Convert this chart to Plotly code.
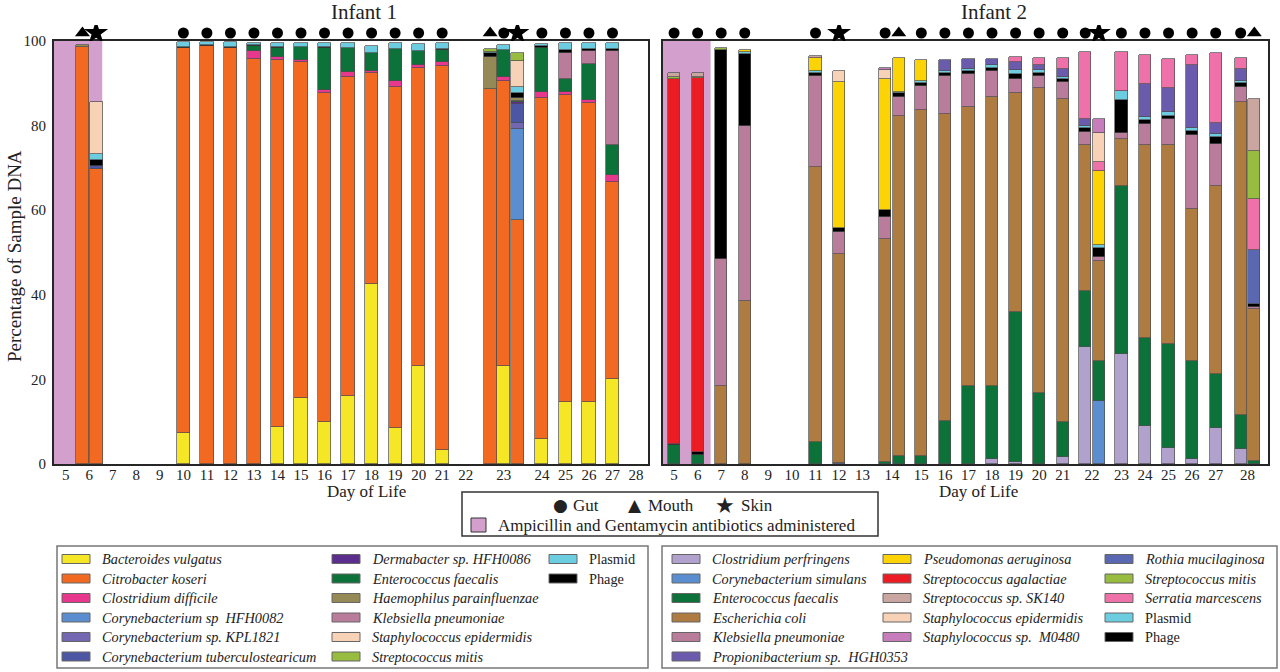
import plotly.graph_objects as go

W, H = 1280, 672

# ---------------- Infant 1 ----------------
I1_DAYS = [6, 6, 10, 11, 12, 13, 14, 15, 16, 17, 18, 19, 20, 21, 23, 23, 23, 24, 25, 26, 27]
I1_SITES = ["Mouth", "Skin"] + ["Gut"] * 12 + ["Mouth", "Gut", "Skin"] + ["Gut"] * 4

I1_BACTEROIDES = [0, 0, 7.4, 0, 0, 0, 8.8, 15.5, 10.0, 16.1, 42.5, 8.4, 23.2, 3.2, 0, 23.2, 0, 5.8, 14.7, 14.7, 20.0]
I1_CITROBACTER = [98.6, 69.7, 91.0, 98.8, 98.4, 95.8, 86.7, 79.5, 77.8, 75.5, 49.9, 80.8, 70.5, 91.0, 88.6, 67.4, 57.8, 80.8, 72.5, 70.6, 46.7]
I1_CDIFFICILE = [0, 0, 0, 0, 0, 1.8, 0.7, 0.5, 0.6, 1.0, 0.6, 1.4, 0.6, 0.8, 0, 0.9, 0, 1.3, 0.8, 0.8, 1.6]
I1_CORY_HFH0082 = [0, 0, 0, 0, 0, 0, 0, 0, 0, 0, 0, 0, 0, 0, 0, 0, 21.3, 0, 0, 0, 0]
I1_CORY_KPL1821 = [0, 0, 0, 0, 0, 0, 0, 0, 0, 0, 0, 0, 0, 0, 0, 0, 1.5, 0, 0, 0, 0]
I1_CORY_TUBERC = [0, 0.8, 0, 0, 0, 0, 0, 0, 0, 0, 0, 0, 0, 0, 0, 0, 4.4, 0, 0, 0, 0]
I1_DERMABACTER = [0, 0, 0, 0, 0, 0, 0, 0, 0, 0, 0, 0, 0, 0, 0, 0, 0.5, 0, 0, 0, 0]
I1_ENTEROCOCCUS = [0, 0, 0, 0, 0, 1.3, 2.1, 3.2, 10.0, 5.7, 4.1, 7.5, 3.4, 2.9, 0, 6.3, 0.4, 10.5, 2.9, 8.5, 7.0]
I1_HAEMOPHILUS = [0.5, 0, 0, 0, 0, 0, 0, 0, 0, 0, 0, 0, 0, 0, 7.6, 0, 0.6, 0, 0, 0, 0]
I1_KLEBSIELLA = [0, 0, 0, 0, 0, 0, 0, 0, 0, 0, 0, 0, 0, 0, 0, 0, 0, 0, 6.3, 3.1, 22.4]
I1_PHAGE = [0, 1.4, 0.3, 0.2, 0.3, 0.1, 0.2, 0, 0.2, 0, 0, 0, 0, 0.2, 0.9, 0, 1.2, 0.4, 0.7, 0.4, 0.3]
I1_PLASMID = [0, 1.5, 1.0, 0.8, 1.1, 0.6, 1.1, 0.9, 1.0, 1.2, 1.8, 1.4, 1.5, 1.5, 0.4, 1.2, 1.4, 0.6, 1.6, 1.4, 1.5]
I1_STAPH_EPI = [0, 12.1, 0, 0, 0, 0, 0, 0, 0, 0, 0, 0, 0, 0, 0, 0, 6.2, 0, 0, 0, 0]
I1_STREP_MITIS = [0, 0, 0, 0, 0, 0, 0, 0, 0, 0, 0, 0, 0, 0, 0.7, 0, 1.8, 0, 0, 0, 0]

# stacking order (bottom -> top): name, colour, values
I1_LAYERS = [
    ("Bacteroides vulgatus", "#F6E726", I1_BACTEROIDES),
    ("Citrobacter koseri", "#F26A22", I1_CITROBACTER),
    ("Clostridium difficile", "#E8388E", I1_CDIFFICILE),
    ("Corynebacterium sp HFH0082", "#5A8ED0", I1_CORY_HFH0082),
    ("Corynebacterium sp. KPL1821", "#7467B1", I1_CORY_KPL1821),
    ("Corynebacterium tuberculostearicum", "#4C56A2", I1_CORY_TUBERC),
    ("Dermabacter sp. HFH0086", "#5B2D8C", I1_DERMABACTER),
    ("Enterococcus faecalis", "#0C7239", I1_ENTEROCOCCUS),
    ("Haemophilus parainfluenzae", "#958A56", I1_HAEMOPHILUS),
    ("Klebsiella pneumoniae", "#B97C9B", I1_KLEBSIELLA),
    ("Phage", "#000000", I1_PHAGE),
    ("Plasmid", "#6CCCE0", I1_PLASMID),
    ("Staphylococcus epidermidis", "#F8D2B6", I1_STAPH_EPI),
    ("Streptococcus mitis", "#98BC3F", I1_STREP_MITIS),
]

# ---------------- Infant 2 ----------------
I2_DAYS = [5, 6, 7, 8, 11, 12, 14, 14, 15, 16, 17, 18, 19, 20, 21, 22, 22, 23, 24, 25, 26, 27, 28, 28]
I2_SITES = ["Gut"] * 5 + ["Skin", "Gut", "Mouth"] + ["Gut"] * 8 + ["Skin"] + ["Gut"] * 6 + ["Mouth"]

I2_CPERFRINGENS = [0, 0, 0, 0, 0, 0, 0, 0, 0, 0, 0, 1.2, 0.4, 0, 1.6, 27.6, 0, 26.0, 9.1, 3.9, 1.3, 8.6, 3.5, 0]
I2_CORY_SIMULANS = [0, 0, 0, 0, 0, 0.3, 0, 0, 0, 0, 0, 0, 0, 0, 0, 0, 14.9, 0, 0, 0, 0, 0, 0, 0]
I2_ENTEROCOCCUS = [4.6, 2.1, 0, 0, 5.1, 0, 0.5, 1.9, 2.0, 10.2, 18.5, 17.3, 35.6, 16.9, 8.3, 13.4, 9.5, 39.8, 20.6, 24.4, 23.1, 12.7, 8.2, 0.8]
I2_ECOLI = [0, 0, 18.5, 38.6, 65.0, 49.3, 52.6, 80.4, 81.8, 72.5, 65.8, 68.3, 51.8, 72.1, 76.3, 34.3, 23.7, 11.0, 45.6, 47.0, 36.0, 44.4, 73.8, 35.9]
I2_KLEBSIELLA = [0, 0, 30.0, 41.3, 21.6, 5.3, 5.4, 4.5, 5.6, 9.0, 7.9, 6.2, 3.2, 2.8, 4.2, 3.1, 0.8, 1.4, 5.0, 6.3, 17.4, 9.9, 3.7, 0.5]
I2_PHAGE = [0.2, 0.8, 49.4, 17.0, 0.7, 1.0, 1.5, 0.8, 0.6, 0.7, 0.7, 0.7, 1.2, 0.7, 0.6, 1.0, 2.1, 7.9, 1.0, 0.7, 0.9, 1.6, 0.8, 0.6]
I2_PLASMID = [0, 0, 0, 0.6, 0.5, 0, 0, 0.4, 0.5, 0.5, 0.6, 0.6, 0.9, 0.6, 0.6, 0.5, 0.8, 2.1, 0.7, 1.0, 0.8, 0.7, 0.5, 0]
I2_STREP_AGAL = [86.2, 88.3, 0, 0, 0, 0, 0, 0, 0, 0, 0, 0, 0, 0, 0, 0, 0, 0, 0, 0, 0, 0, 0, 0]
I2_PSEUDOMONAS = [0, 0, 0, 0.4, 3.2, 34.5, 31.0, 8.1, 5.0, 0, 0, 0, 0, 0, 0, 0, 17.4, 0, 0, 0, 0, 0, 0, 0]
I2_PROPIONI = [0, 0, 0, 0, 0, 0, 0, 0, 0, 2.6, 2.2, 1.4, 2.0, 1.2, 1.8, 1.6, 0, 0, 7.8, 5.5, 14.8, 2.6, 2.8, 0]
I2_ROTHIA = [0, 0, 0, 0, 0, 0, 0, 0, 0, 0, 0, 0, 0, 0, 0, 0, 0, 0, 0, 0, 0, 0, 0, 12.8]
I2_SERRATIA = [0, 0, 0, 0, 0, 0, 0, 0, 0, 0, 0, 0, 1.2, 1.6, 2.5, 15.8, 2.3, 9.1, 7.0, 6.9, 2.5, 16.6, 2.8, 12.0]
I2_STREP_MITIS = [0.5, 0.4, 0.5, 0, 0, 0, 0, 0, 0, 0, 0, 0, 0, 0, 0, 0, 0, 0, 0, 0, 0, 0, 0, 11.5]
I2_STREP_SK140 = [1.0, 0.9, 0, 0, 0.3, 0, 0, 0, 0, 0, 0, 0, 0, 0, 0, 0, 0, 0, 0, 0, 0, 0, 0, 12.2]
I2_STAPH_EPI = [0, 0, 0, 0, 0, 2.6, 2.1, 0, 0, 0, 0, 0, 0, 0, 0, 0, 6.7, 0, 0, 0, 0, 0, 0, 0]
I2_STAPH_M0480 = [0, 0, 0, 0, 0, 0, 0.6, 0, 0, 0, 0, 0, 0, 0, 0, 0, 3.3, 0, 0, 0, 0, 0, 0, 0]

I2_LAYERS = [
    ("Clostridium perfringens", "#B0A1CD", I2_CPERFRINGENS),
    ("Corynebacterium simulans", "#5A8ED0", I2_CORY_SIMULANS),
    ("Enterococcus faecalis", "#0C7239", I2_ENTEROCOCCUS),
    ("Escherichia coli", "#AE7B41", I2_ECOLI),
    ("Klebsiella pneumoniae", "#B97C9B", I2_KLEBSIELLA),
    ("Phage", "#000000", I2_PHAGE),
    ("Plasmid", "#6CCCE0", I2_PLASMID),
    ("Streptococcus agalactiae", "#EC1C24", I2_STREP_AGAL),
    ("Pseudomonas aeruginosa", "#FCD406", I2_PSEUDOMONAS),
    ("Propionibacterium sp. HGH0353", "#6A5BAC", I2_PROPIONI),
    ("Rothia mucilaginosa", "#5A68B2", I2_ROTHIA),
    ("Serratia marcescens", "#EE72A9", I2_SERRATIA),
    ("Streptococcus mitis", "#98BC3F", I2_STREP_MITIS),
    ("Streptococcus sp. SK140", "#C9A6A0", I2_STREP_SK140),
    ("Staphylococcus epidermidis", "#F8D2B6", I2_STAPH_EPI),
    ("Staphylococcus sp. M0480", "#C77DBB", I2_STAPH_M0480),
]

ANTIBIOTIC_DAYS = [5, 6]
ALL_DAYS = list(range(5, 29))

# legend contents (label, colour, italic)
LEGEND_1 = [
    [("Bacteroides vulgatus", "#F6E726", True), ("Citrobacter koseri", "#F26A22", True),
     ("Clostridium difficile", "#E8388E", True), ("Corynebacterium sp  HFH0082", "#5A8ED0", True),
     ("Corynebacterium sp. KPL1821", "#7467B1", True), ("Corynebacterium tuberculostearicum", "#4C56A2", True)],
    [("Dermabacter sp. HFH0086", "#5B2D8C", True), ("Enterococcus faecalis", "#0C7239", True),
     ("Haemophilus parainfluenzae", "#958A56", True), ("Klebsiella pneumoniae", "#B97C9B", True),
     ("Staphylococcus epidermidis", "#F8D2B6", True), ("Streptococcus mitis", "#98BC3F", True)],
    [("Plasmid", "#6CCCE0", False), ("Phage", "#000000", False)],
]
LEGEND_2 = [
    [("Clostridium perfringens", "#B0A1CD", True), ("Corynebacterium simulans", "#5A8ED0", True),
     ("Enterococcus faecalis", "#0C7239", True), ("Escherichia coli", "#AE7B41", True),
     ("Klebsiella pneumoniae", "#B97C9B", True), ("Propionibacterium sp.  HGH0353", "#6A5BAC", True)],
    [("Pseudomonas aeruginosa", "#FCD406", True), ("Streptococcus agalactiae", "#EC1C24", True),
     ("Streptococcus sp. SK140", "#C9A6A0", True), ("Staphylococcus epidermidis", "#F8D2B6", True),
     ("Staphylococcus sp.  M0480", "#C77DBB", True)],
    [("Rothia mucilaginosa", "#5A68B2", True), ("Streptococcus mitis", "#98BC3F", True),
     ("Serratia marcescens", "#EE72A9", True), ("Plasmid", "#6CCCE0", False), ("Phage", "#000000", False)],
]

SERIF = "Liberation Serif"
SHADE = "#D3A0CE"
OUTLINE = "#4d4d4d"
SYMBOLS = {"Gut": ("circle", 11), "Mouth": ("triangle-up", 13), "Skin": ("star", 18)}


def px_x(p):
    return p / W


def px_y(p):
    return 1 - p / H


def day_centres(extra):
    # crowded days get a wider slot on the axis
    pos, shift = {}, 0.0
    for d in ALL_DAYS:
        e = extra.get(d, 0.0)
        pos[d] = d + shift + e / 2
        shift += e
    return pos


def sample_x(days, centres, step=0.58):
    xs = []
    for i, d in enumerate(days):
        same = [j for j, dd in enumerate(days) if dd == d]
        k = same.index(i)
        xs.append(centres[d] + (k - (len(same) - 1) / 2) * step)
    return xs


fig = go.Figure()

panels = [
    dict(days=I1_DAYS, sites=I1_SITES, layers=I1_LAYERS, extra={23: 1.24},
         width=0.56, rng=[4.5, 29.75], dom=[54, 648]),
    dict(days=I2_DAYS, sites=I2_SITES, layers=I2_LAYERS, extra={14: 0.49, 22: 0.49, 28: 0.7},
         width=0.52, rng=[4.53, 30.2], dom=[663, 1268]),
]

for n, p in enumerate(panels):
    ax = "x" if n == 0 else "x2"
    ay = "y" if n == 0 else "y2"
    am = "y3" if n == 0 else "y4"  # thin strip above the panel for the site symbols
    centres = day_centres(p["extra"])
    xs = sample_x(p["days"], centres)
    for name, colour, vals in p["layers"]:
        fig.add_trace(go.Bar(
            x=xs, y=[v if v > 0 else None for v in vals], name=name,
            width=p["width"], marker=dict(color=colour, line=dict(color=OUTLINE, width=0.7)),
            xaxis=ax, yaxis=ay, showlegend=False,
        ))
    for site, (sym, size) in SYMBOLS.items():
        sx = [x for x, s in zip(xs, p["sites"]) if s == site]
        fig.add_trace(go.Scatter(
            x=sx, y=[0.5] * len(sx), mode="markers",
            marker=dict(symbol=sym, size=size, color="black"),
            xaxis=ax, yaxis=am, showlegend=False, hoverinfo="skip",
        ))
    # antibiotic shading
    fig.add_shape(type="rect", xref=ax, yref=ay, layer="below",
                  x0=p["rng"][0], x1=centres[ANTIBIOTIC_DAYS[-1]] + 0.55, y0=0, y1=100,
                  fillcolor=SHADE, line=dict(width=0))
    s = "" if n == 0 else "2"
    fig.update_layout(**{
        "xaxis" + s: dict(
            domain=[px_x(p["dom"][0]), px_x(p["dom"][1])], range=p["rng"],
            tickvals=[centres[d] for d in ALL_DAYS], ticktext=[str(d) for d in ALL_DAYS],
            ticks="", showgrid=False, zeroline=False, showline=True, mirror=True,
            linecolor="#262626", linewidth=2, ticklabelstandoff=-4, automargin=False,
            tickfont=dict(family=SERIF, size=15, color="#222"),
            anchor=ay,
        ),
        "yaxis" + s: dict(
            domain=[px_y(464), px_y(41)], range=[0, 100], tickvals=[0, 20, 40, 60, 80, 100],
            showticklabels=(n == 0), ticks="", showgrid=False, zeroline=False,
            showline=True, mirror=True, linecolor="#262626", linewidth=2, automargin=False,
            ticklabelstandoff=3, tickfont=dict(family=SERIF, size=15, color="#222"),
            anchor=ax,
        ),
        "yaxis" + am[1:]: dict(
            domain=[px_y(41), px_y(25)], range=[0, 1], visible=False, anchor=ax,
            showgrid=False, zeroline=False, automargin=False,
        ),
    })

ann = []


def text(x, y, s, size=17, anchor="center", italic=False, family=SERIF, angle=0):
    ann.append(dict(x=px_x(x), y=px_y(y), xref="paper", yref="paper", text=s, showarrow=False,
                    xanchor=anchor, yanchor="middle", textangle=angle,
                    font=dict(family=family, size=size, color="#222",
                              style="italic" if italic else "normal")))


text(364, 12, "Infant 1", size=21)
text(994, 12, "Infant 2", size=21)
text(14, 256, "Percentage of Sample DNA", size=19, angle=-90)
text(366, 491, "Day of Life", size=17)
text(978, 491, "Day of Life", size=17)

# site / antibiotic key
fig.add_shape(type="rect", xref="paper", yref="paper", x0=px_x(462), x1=px_x(878), y0=px_y(536), y1=px_y(492),
              line=dict(color="#333", width=1.5), fillcolor="white")
for cx, tx, sym, word in [(560, 571, "●", "Gut"), (635, 646, "▲", "Mouth"), (725, 739, "★", "Skin")]:
    text(cx, 505, sym, size=17 if sym != "★" else 22, family="DejaVu Sans")
    text(tx, 505, word, size=17, anchor="left")
fig.add_shape(type="rect", xref="paper", yref="paper", x0=px_x(471), x1=px_x(486), y0=px_y(532), y1=px_y(518),
              line=dict(color="#333", width=1), fillcolor=SHADE)
text(496, 525, "Ampicillin and Gentamycin antibiotics administered", size=17, anchor="left")

# species keys
ROWS = [559 + 19.5 * i for i in range(6)]
for box, cols, sw_x in [((57, 648), LEGEND_1, (62, 332, 549)), ((662, 1277), LEGEND_2, (672, 883, 1105))]:
    fig.add_shape(type="rect", xref="paper", yref="paper", x0=px_x(box[0]), x1=px_x(box[1]),
                  y0=px_y(668), y1=px_y(546), line=dict(color="#777", width=1.5))
    for col, x0 in zip(cols, sw_x):
        for (label, colour, ital), y in zip(col, ROWS):
            fig.add_shape(type="rect", xref="paper", yref="paper", x0=px_x(x0), x1=px_x(x0 + 28),
                          y0=px_y(y + 4.5), y1=px_y(y - 4.5), fillcolor=colour,
                          line=dict(color="#666", width=1))
            text(x0 + 38, y, label, size=14.3, anchor="left", italic=ital)

fig.update_layout(
    width=W, height=H, margin=dict(l=0, r=0, t=0, b=0, pad=0, autoexpand=False),
    barmode="stack", bargap=0, paper_bgcolor="white", plot_bgcolor="white",
    annotations=ann, showlegend=False, font=dict(family=SERIF),
)

# the page's default 8px body margin would push the 1280x672 figure out of the window
fig.write_html(
    "out.html",
    config={"displayModeBar": False},
    post_script="document.body.style.margin='0px';document.body.style.overflow='hidden';",
)
